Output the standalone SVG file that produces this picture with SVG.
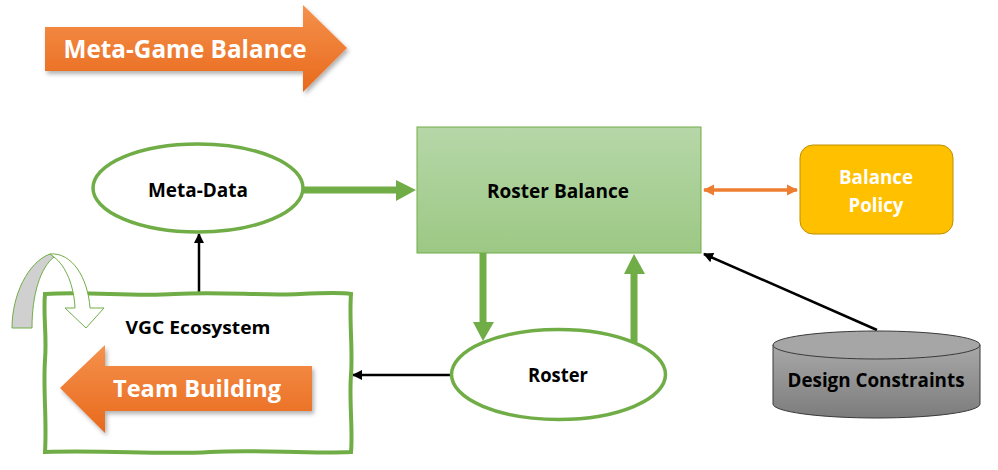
<svg xmlns="http://www.w3.org/2000/svg" width="998" height="470" viewBox="0 0 998 470">
<defs>
<linearGradient id="gOrange" x1="0" y1="0" x2="0" y2="1"><stop offset="0" stop-color="#f5914c"/><stop offset="1" stop-color="#e8691c"/></linearGradient>
<linearGradient id="gGreen" x1="0" y1="0" x2="0" y2="1"><stop offset="0" stop-color="#b6d7a8"/><stop offset="1" stop-color="#9cc884"/></linearGradient>
<linearGradient id="gGray" x1="0" y1="0" x2="0" y2="1"><stop offset="0" stop-color="#a8a8a8"/><stop offset="1" stop-color="#7c7c7c"/></linearGradient>
<filter id="shadow" x="-10%" y="-10%" width="125%" height="130%"><feDropShadow dx="2" dy="3" stdDeviation="2" flood-color="#000" flood-opacity="0.3"/></filter>
<marker id="mBlack" viewBox="0 0 10 10" refX="9" refY="5" markerWidth="4" markerHeight="4" orient="auto-start-reverse"><path d="M0,0 L10,5 L0,10 Z" fill="#000"/></marker>
<marker id="mOrange" viewBox="0 0 10 10" refX="9" refY="5" markerWidth="3.2" markerHeight="3.2" orient="auto-start-reverse"><path d="M0,0 L10,5 L0,10 Z" fill="#ed7d31"/></marker>
</defs>
<style>
.t{font-family:"Open Sans","Liberation Sans",sans-serif;font-weight:bold;text-anchor:middle}
.w{fill:#fff}
.k{fill:#000}
.ell{fill:#fff;stroke:#70ad47;stroke-width:3.5}
.gline{stroke:#70ad47;stroke-width:7;fill:none}
.ghead{fill:#70ad47}
.bline{stroke:#000;stroke-width:2.5;fill:none;marker-end:url(#mBlack)}
</style>

<g id="meta-game-balance">
<path d="M45,27 L303,27 L303,5 L347,48 L303,92 L303,71 L45,71 Z" fill="url(#gOrange)" filter="url(#shadow)"/>
<text class="t w" x="185" y="58" font-size="25" textLength="243" lengthAdjust="spacingAndGlyphs">Meta-Game Balance</text>
</g>

<g id="connectors">
<line class="gline" x1="303" y1="190" x2="398" y2="190"/>
<path class="ghead" d="M396,180 L416,190 L396,201 Z"/>
<line class="gline" x1="483" y1="253" x2="483" y2="324"/>
<path class="ghead" d="M473,322 L494,322 L483,341 Z"/>
<line class="gline" x1="634" y1="342" x2="634" y2="272"/>
<path class="ghead" d="M624,274 L645,274 L634,254 Z"/>
<line x1="704" y1="190" x2="797" y2="190" stroke="#ed7d31" stroke-width="3.5" marker-start="url(#mOrange)" marker-end="url(#mOrange)"/>
<line class="bline" x1="877" y1="330" x2="704" y2="254"/>
<line class="bline" x1="451" y1="375" x2="353" y2="375"/>
<line class="bline" x1="199" y1="294" x2="199" y2="234"/>
</g>

<g id="meta-data">
<ellipse class="ell" cx="198" cy="188" rx="105" ry="44"/>
<text class="t k" x="198" y="197" font-size="19" textLength="100" lengthAdjust="spacingAndGlyphs">Meta-Data</text>
</g>

<g id="roster-balance">
<rect x="417" y="127" width="284" height="126" fill="url(#gGreen)" stroke="#70ad47" stroke-width="1"/>
<text class="t k" x="558" y="198" font-size="20" textLength="142" lengthAdjust="spacingAndGlyphs">Roster Balance</text>
</g>

<g id="balance-policy">
<rect x="800" y="145" width="153" height="89" rx="13" fill="#ffc000" stroke="#bf9000" stroke-width="1"/>
<text class="t w" x="876" y="184" font-size="20" textLength="74" lengthAdjust="spacingAndGlyphs">Balance</text>
<text class="t w" x="876" y="212" font-size="20" textLength="55" lengthAdjust="spacingAndGlyphs">Policy</text>
</g>

<g id="design-constraints">
<path d="M773,345 L773,404 A103.5,14 0 0 0 980,404 L980,345 Z" fill="url(#gGray)" stroke="#3a3a3a" stroke-width="1"/>
<ellipse cx="876.5" cy="345" rx="103.5" ry="14" fill="#a6a6a6" stroke="#3a3a3a" stroke-width="1"/>
<text class="t k" x="876" y="387" font-size="19" textLength="177" lengthAdjust="spacingAndGlyphs">Design Constraints</text>
</g>

<g id="roster">
<ellipse class="ell" cx="558.5" cy="374.5" rx="107" ry="45"/>
<text class="t k" x="558" y="382" font-size="19" textLength="60" lengthAdjust="spacingAndGlyphs">Roster</text>
</g>

<g id="vgc-ecosystem">
<path d="M45,294 C90,291 130,297 175,294 C220,291 260,296 300,294 C320,293 340,292 351,294 C349,320 353,350 351,375 C349,400 353,430 351,452 C300,454 260,449 210,452 C160,455 110,450 45,452 C47,420 43,390 45,360 C47,335 43,315 45,294 Z" fill="#fff" stroke="#70ad47" stroke-width="4"/>
<text class="t k" x="198" y="334" font-size="18" textLength="145" lengthAdjust="spacingAndGlyphs">VGC Ecosystem</text>
<path d="M312,366 L105,366 L105,345 L60,388 L105,433 L105,411 L312,411 Z" fill="url(#gOrange)" filter="url(#shadow)"/>
<text class="t w" x="197" y="397" font-size="24" textLength="168" lengthAdjust="spacingAndGlyphs">Team Building</text>
</g>

<g id="cycle-arrow">
<path d="M12,328 C12,295 28,262 50,254 L54,257 C40,268 32,295 32,328 Z" fill="#d0d0d0" stroke="#70ad47" stroke-width="1"/>
<path d="M50,254 C72,252 88,278 90,308 L104,308 L86,328 L65,308 L75,308 C74,286 66,266 54,257 Z" fill="#fff" stroke="#70ad47" stroke-width="1"/>
</g>
</svg>
